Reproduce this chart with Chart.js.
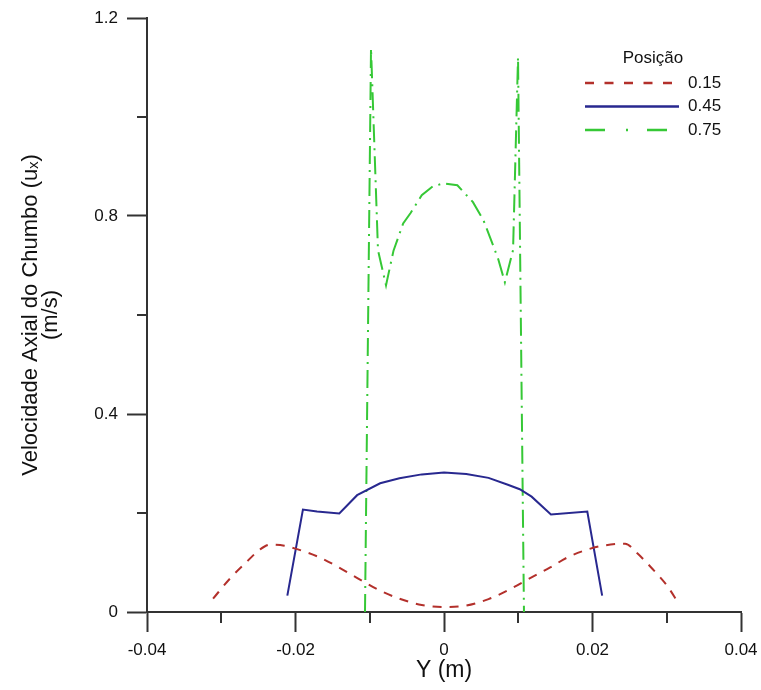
<!DOCTYPE html>
<html><head><meta charset="utf-8">
<script src="https://cdn.jsdelivr.net/npm/chart.js@4.4.1/dist/chart.umd.min.js"></script>
<style>html,body{margin:0;padding:0;background:#fff}#wrap{width:761px;height:690px}</style>
</head><body><div id="wrap"><canvas id="c" width="761" height="690"></canvas></div>
<script>
// ---- data ----
const legendTitle = 'Posição';
const seriesNames = ['0.15', '0.45', '0.75'];
const xTitle = 'Y (m)';
const yTitle = ['Velocidade Axial do Chumbo (uₓ)', '(m/s)'];
const xTicksMajor = [-0.04, -0.02, 0, 0.02, 0.04];
const xTickLabels = ['-0.04', '-0.02', '0', '0.02', '0.04'];
const yTicksMajor = [0, 0.4, 0.8, 1.2];
const yTickLabels = ['0', '0.4', '0.8', '1.2'];
const xTicksMinor = [-0.03, -0.01, 0.01, 0.03];
const yTicksMinor = [0.2, 0.6, 1.0];

const x015 = [-0.0311, -0.0288, -0.0268, -0.0248, -0.0234, -0.0215, -0.0200, -0.0167, -0.0123, -0.0086, -0.0060, -0.0030, 0, 0.0030, 0.0060, 0.0090, 0.0113, 0.0143, 0.0166, 0.0193, 0.0214, 0.0244, 0.0260, 0.0282, 0.0300, 0.0317];
const y015 = [0.027, 0.068, 0.098, 0.126, 0.136, 0.134, 0.128, 0.110, 0.074, 0.043, 0.027, 0.014, 0.010, 0.013, 0.026, 0.047, 0.066, 0.090, 0.110, 0.126, 0.134, 0.138, 0.119, 0.085, 0.054, 0.015];

const x045 = [-0.0211, -0.0190, -0.0171, -0.0141, -0.0117, -0.0086, -0.0060, -0.0030, 0, 0.0030, 0.0060, 0.0086, 0.0102, 0.0118, 0.0144, 0.0193, 0.0213];
const y045 = [0.033, 0.207, 0.203, 0.199, 0.236, 0.260, 0.270, 0.278, 0.282, 0.279, 0.271, 0.257, 0.248, 0.233, 0.197, 0.203, 0.033];

const x075 = [-0.01064, -0.00983, -0.00889, -0.00781, -0.0068, -0.0055, -0.0045, -0.0030, -0.0015, 0, 0.0018, 0.0039, 0.0053, 0.0062, 0.0073, 0.0082, 0.0093, 0.00997, 0.01077];
const y075 = [0, 1.139, 0.731, 0.660, 0.730, 0.785, 0.806, 0.842, 0.860, 0.866, 0.862, 0.828, 0.792, 0.757, 0.713, 0.666, 0.731, 1.121, 0];

// ---- styles ----
const FONT = '"Liberation Sans", Arial, Helvetica, sans-serif';
const AXIS = '#333333';
const colors = ['#b3302b', '#28288f', '#36c836'];
const dashes = [[9, 8], [], [18, 6, 2, 6]];
const legendDashes = [[9, 10.5], [], [20, 21, 2, 19]];

const pts = (xs, ys) => xs.map((x, i) => ({x: x, y: ys[i]}));

const minorTicks = {
  id: 'minorTicks',
  afterDraw(chart) {
    const ctx = chart.ctx, xs = chart.scales.x, ys = chart.scales.y, a = chart.chartArea;
    ctx.save();
    ctx.strokeStyle = AXIS; ctx.lineWidth = 2;
    xTicksMinor.forEach(v => {
      const p = Math.round(xs.getPixelForValue(v));
      ctx.beginPath(); ctx.moveTo(p, a.bottom); ctx.lineTo(p, a.bottom + 11); ctx.stroke();
    });
    yTicksMinor.forEach(v => {
      const p = Math.round(ys.getPixelForValue(v));
      ctx.beginPath(); ctx.moveTo(a.left, p); ctx.lineTo(a.left - 10, p); ctx.stroke();
    });
    ctx.restore();
  }
};

const customLegend = {
  id: 'customLegend',
  afterDraw(chart) {
    const ctx = chart.ctx;
    ctx.save();
    ctx.fillStyle = '#111';
    ctx.font = '17px ' + FONT;
    ctx.textBaseline = 'middle';
    ctx.textAlign = 'center';
    ctx.fillText(legendTitle, 653, 58);
    ctx.textAlign = 'left';
    chart.data.datasets.forEach((ds, i) => {
      const y = 83 + i * 23.5;
      ctx.strokeStyle = ds.borderColor;
      ctx.lineWidth = 2.5;
      ctx.setLineDash(legendDashes[i]);
      ctx.beginPath(); ctx.moveTo(585, y); ctx.lineTo(679, y); ctx.stroke();
      ctx.setLineDash([]);
      ctx.fillText(ds.label, 688, y);
    });
    ctx.restore();
  }
};

new Chart(document.getElementById('c'), {
  type: 'line',
  data: {
    datasets: [
      {label: seriesNames[0], data: pts(x015, y015), borderColor: colors[0], borderDash: dashes[0], borderWidth: 2, pointRadius: 0, cubicInterpolationMode: 'monotone', fill: false},
      {label: seriesNames[1], data: pts(x045, y045), borderColor: colors[1], borderDash: dashes[1], borderWidth: 2, pointRadius: 0, tension: 0, fill: false},
      {label: seriesNames[2], data: pts(x075, y075), borderColor: colors[2], borderDash: dashes[2], borderWidth: 2, pointRadius: 0, tension: 0, fill: false}
    ]
  },
  options: {
    responsive: false,
    animation: false,
    devicePixelRatio: 1,
    layout: {padding: {top: 18, right: 20, left: 0, bottom: 0}},
    plugins: {legend: {display: false}, tooltip: {enabled: false}},
    scales: {
      x: {
        type: 'linear', min: -0.04, max: 0.04,
        afterBuildTicks: s => { s.ticks = xTicksMajor.map(v => ({value: v})); },
        afterFit: s => { s.height = 78; s.paddingLeft = 0; s.paddingRight = 0; },
        ticks: {
          callback: (v) => xTickLabels[xTicksMajor.findIndex(t => Math.abs(t - v) < 1e-9)],
          font: {family: FONT, size: 17}, color: '#111', padding: 8, maxRotation: 0
        },
        grid: {drawOnChartArea: false, drawTicks: true, tickLength: 20, tickColor: AXIS, tickWidth: 2},
        border: {display: true, color: AXIS, width: 2},
        title: {display: true, text: xTitle, font: {family: FONT, size: 23}, color: '#111', padding: {top: 0, bottom: 6}}
      },
      y: {
        type: 'linear', min: 0, max: 1.2,
        afterBuildTicks: s => { s.ticks = yTicksMajor.map(v => ({value: v})); },
        afterFit: s => { s.width = 147; s.paddingTop = 0; s.paddingBottom = 0; },
        ticks: {
          callback: (v) => yTickLabels[yTicksMajor.findIndex(t => Math.abs(t - v) < 1e-9)],
          font: {family: FONT, size: 17}, color: '#111', padding: 9
        },
        grid: {drawOnChartArea: false, drawTicks: true, tickLength: 20, tickColor: AXIS, tickWidth: 2},
        border: {display: true, color: AXIS, width: 2},
        title: {display: true, text: yTitle, font: {family: FONT, size: 22, lineHeight: 0.9}, color: '#111', padding: {top: 21, bottom: 0}}
      }
    }
  },
  plugins: [minorTicks, customLegend]
});
</script>
</body></html>
